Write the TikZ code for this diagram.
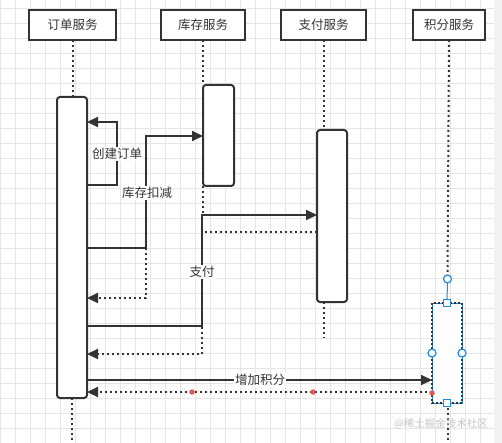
\documentclass[tikz,border=0pt]{standalone}
\usepackage{fontspec}
\setmainfont{Noto Sans CJK SC}
\usetikzlibrary{arrows.meta}
\definecolor{ink}{HTML}{333333}
\definecolor{gridc}{HTML}{E6E6E6}
\definecolor{selblue}{HTML}{1E88E5}
\definecolor{reddot}{HTML}{E05858}
\definecolor{wm}{HTML}{C4C4C4}
\tikzset{
  hdr/.style={draw=ink, line width=2pt, fill=white, minimum width=#1, minimum height=30pt, inner sep=0pt, outer sep=0pt, font=\fontsize{12.5}{14}\selectfont, text=ink},
  act/.style={draw=ink, line width=2pt, fill=white, rounded corners=3pt, inner sep=0pt, outer sep=0pt},
  life/.style={draw=ink, line width=2pt, dash pattern=on 2pt off 3pt},
  msg/.style={draw=ink, line width=2pt, -{Triangle[length=11pt,width=10pt]}},
  ret/.style={draw=ink, line width=2pt, dash pattern=on 2pt off 3pt, -{Triangle[length=11pt,width=10pt]}},
  lbl/.style={fill=white, inner sep=1pt, font=\fontsize{12.5}{14}\selectfont, text=ink},
  hcirc/.style={circle, draw=selblue, line width=1.2pt, fill=white, minimum size=8pt, inner sep=0pt},
  hsq/.style={rectangle, draw=selblue, line width=1.2pt, fill=white, minimum size=7pt, inner sep=0pt},
  rdot/.style={circle, fill=reddot, minimum size=5.5pt, inner sep=0pt},
}
\begin{document}
\begin{tikzpicture}[x=1pt,y=-1pt]
\useasboundingbox (0,0) rectangle (502,443);
\fill[white] (0,0) rectangle (502,443);
% grid
\foreach \gx in {0,15,...,495} \draw[gridc, line width=0.7pt] (\gx,0) -- (\gx,443);
\foreach \gy in {8,23,...,443} \draw[gridc, line width=0.7pt] (0,\gy) -- (502,\gy);
\fill[black!5] (494,0) rectangle (502,443);

% headers
\node[hdr=87pt] (h1) at (72.5,25) {订单服务};
\node[hdr=84pt] (h2) at (203,25) {库存服务};
\node[hdr=85pt] (h3) at (323.5,25) {支付服务};
\node[hdr=72pt] (h4) at (449,25) {积分服务};

% activation boxes
\node[act, minimum width=30pt, minimum height=301pt] (a1) at (72,247.5) {};
\node[act, minimum width=31pt, minimum height=101pt] (a2) at (218.5,135.5) {};
\node[act, minimum width=30pt, minimum height=172pt] (a3) at (332,216) {};

% free ends of lifelines
\coordinate (e1) at (72,443);
\coordinate (e2) at (203,214);
\coordinate (e3) at (323.5,338);
\coordinate (e4t) at (447.5,279);
\coordinate (e4) at (447.5,443);

% lifelines
\draw[life] (h1.south) -- (h1.south |- a1.north);
\draw[life] (a1.south) -- (e1);
\draw[life] (h2.south) -- (h2.south |- a2.north);
\draw[life] (h2.south |- a2.south) -- (e2);
\draw[life] (h3.south) -- (h3.south |- a3.north);
\draw[life] (h3.south |- a3.south) -- (e3);
\draw[life] (h4.south) -- (e4t);
\draw[life] (447.5,403) -- (e4);

% selected activation box of 积分服务
\node[rectangle, draw=selblue, line width=0.8pt, fill=white, minimum width=30pt, minimum height=100pt, inner sep=0pt, outer sep=0pt] (a4) at (447,353) {};
\draw[ink, line width=1.8pt, dash pattern=on 2pt off 2pt] (a4.north west) rectangle (a4.south east);

% bend points
\coordinate (b1) at (117,122);
\coordinate (b2) at (146,136);
\coordinate (b2r) at (146,248);
\coordinate (b3) at (202,215);
\coordinate (b3r) at (202,354);

% 创建订单 (self call)
\draw[msg] (a1.east |- 0,185) -| (b1) -- (a1.east |- b1);
% 库存扣减
\draw[msg] (a1.east |- b2r) -| (b2) -- (a2.west |- b2);
\draw[ret] (b2r) -- (b2r |- 0,298) -- (a1.east |- 0,298);
% 支付
\draw[msg] (a1.east |- 0,326) -| (b3) -- (a3.west |- b3);
\draw[ret] (a3.west |- 0,232) -| (b3r) -- (a1.east |- b3r);
% 增加积分
\draw[msg] (a1.east |- 0,380) -- (a4.west |- 0,380);
\draw[ret] (a4.west |- 0,392) -- (a1.east |- 0,392);

% labels
\node[lbl] (l1) at (117,154) {创建订单};
\node[lbl] (l2) at (147,193) {库存扣减};
\node[lbl] (l3) at (202,272) {支付};
\node[lbl] (l4) at (260,380) {增加积分};

% selection handles
\draw[selblue, line width=1pt] (e4t) -- (a4.north);
\node[hcirc] (hc1) at (e4t) {};
\node[hsq] (hs1) at (a4.north) {};
\node[hsq] (hs2) at (a4.south) {};
\node[hcirc] (hc2) at (a4.west) {};
\node[hcirc] (hc3) at (a4.east) {};

% waypoint dots
\node[rdot] (r1) at (192,392) {};
\node[rdot] (r2) at (313,392) {};
\node[rdot] (r3) at (432,393) {};

% watermark
\node[text=wm, font=\fontsize{10.5}{12}\selectfont, inner sep=0pt] (wmk) at (441,424) {@稀土掘金技术社区};
\end{tikzpicture}
\end{document}
